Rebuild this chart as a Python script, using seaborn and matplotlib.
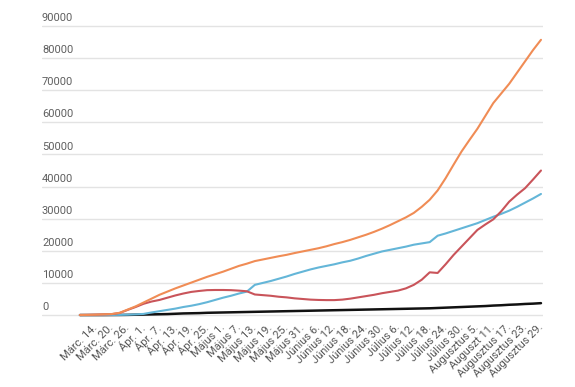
import pandas as pd
import matplotlib
matplotlib.use('Agg')
import matplotlib.pyplot as plt
import seaborn as sns

## data: every 3rd day, Márc. 8. -> Augusztus 29.
days = list(range(59))
tick_days = list(range(2, 59, 2))
tick_labels = ['Márc. 14.', 'Márc. 20.', 'Márc. 26.', 'Ápr. 1.', 'Ápr. 7.', 'Ápr. 13.',
               'Ápr. 19.', 'Ápr. 25.', 'Május 1.', 'Május 7.', 'Május 13.', 'Május 19.',
               'Május 25.', 'Május 31.', 'Június 6.', 'Június 12.', 'Június 18.',
               'Június 24.', 'Június 30.', 'Július 6.', 'Július 12.', 'Július 18.',
               'Július 24.', 'Július 30.', 'Augusztus 5.', 'Auguszt 11.', 'Augusztus 17.',
               'Augusztus 23.', 'Augusztus 29.']

confirmed = [15, 50, 120, 220, 310, 700, 1700, 2700, 3900, 5100,
             6300, 7300, 8300, 9200, 10100, 11000, 11900, 12700, 13500, 14400,
             15300, 16000, 16800, 17300, 17800, 18300, 18750, 19300, 19800, 20300,
             20800, 21400, 22100, 22700, 23400, 24200, 25000, 25900, 26900, 28000,
             29200, 30400, 31800, 33700, 35900, 38800, 42600, 46800, 50900, 54500,
             58000, 62000, 66000, 69000, 72000, 75500, 79000, 82500, 85700]
active = [15, 50, 115, 200, 280, 650, 1600, 2500, 3500, 4200,
          4700, 5400, 6100, 6700, 7200, 7500, 7750, 7800, 7800, 7750,
          7600, 7400, 6400, 6200, 6000, 5700, 5500, 5200, 5000, 4800,
          4700, 4650, 4650, 4800, 5100, 5500, 5900, 6300, 6800, 7200,
          7600, 8300, 9400, 11000, 13300, 13100, 15800, 18700, 21300, 23900,
          26500, 28200, 29800, 32300, 35300, 37500, 39500, 42200, 45000]
recovered = [0, 0, 5, 20, 30, 50, 100, 200, 350, 800,
             1200, 1600, 2000, 2500, 2900, 3400, 4000, 4700, 5400, 6000,
             6700, 7300, 9400, 10000, 10600, 11300, 12000, 12800, 13500, 14200,
             14800, 15300, 15800, 16400, 16900, 17600, 18400, 19100, 19800, 20300,
             20800, 21300, 21900, 22300, 22700, 24700, 25400, 26200, 27000, 27800,
             28600, 29600, 30600, 31500, 32500, 33700, 35000, 36300, 37700]
deaths = [0, 0, 0, 0, 10, 20, 50, 100, 150, 200,
          250, 300, 400, 500, 550, 600, 700, 750, 800, 850,
          900, 950, 1000, 1050, 1100, 1150, 1200, 1250, 1300, 1350,
          1400, 1450, 1500, 1550, 1600, 1650, 1700, 1750, 1800, 1850,
          1900, 1950, 2000, 2050, 2100, 2200, 2300, 2400, 2500, 2600,
          2700, 2800, 2950, 3050, 3200, 3300, 3450, 3550, 3700]
y_ticks = [0, 10000, 20000, 30000, 40000, 50000, 60000, 70000, 80000, 90000]

series = {'Elhunyt': deaths, 'Gyógyult': recovered, 'Aktív': active, 'Igazolt': confirmed}
colors = {'Elhunyt': '#111111', 'Gyógyult': '#64b6d8', 'Aktív': '#c9545a', 'Igazolt': '#f08c55'}

rows = []
for name, vals in series.items():
    for d, v in zip(days, vals):
        rows.append({'Nap': d, 'Esetek': v, 'Sorozat': name})
df = pd.DataFrame(rows)

sns.set_theme(style='white')
plt.rcParams['font.family'] = ['Roboto', 'DejaVu Sans']

fig = plt.figure(figsize=(5.75, 3.87), dpi=100)
ax = fig.add_axes([0.073, 0.1793, 0.8713, 0.7602])

for y in y_ticks:
    ax.axhline(y, color='#e3e3e3', lw=1.0, zorder=0)

sns.lineplot(data=df, x='Nap', y='Esetek', hue='Sorozat', hue_order=list(series.keys()),
             palette=colors, estimator=None, legend=False, lw=1.5, ax=ax)
for line in ax.lines:
    if line.get_color() == '#111111':
        line.set_linewidth(1.8)

ax.set_xlim(-4.78, 58.25)
ax.set_ylim(-800, 90800)
ax.set_xlabel('')
ax.set_ylabel('')
ax.set_yticks([])
ax.set_xticks(tick_days)
ax.set_xticklabels(tick_labels, rotation=45, ha='right', va='center',
                   rotation_mode='anchor', fontsize=8, color='#555555')
ax.tick_params(axis='x', length=0, pad=6)
for s in ax.spines.values():
    s.set_visible(False)

## y labels sit above their gridline, at the left edge
for y in y_ticks:
    ax.annotate(str(y), xy=(0, y), xycoords=('axes fraction', 'data'),
                xytext=(0, 3.5), textcoords='offset points',
                ha='left', va='baseline', fontsize=8, color='#5f5f5f')

fig.savefig('out.png', dpi=100)
